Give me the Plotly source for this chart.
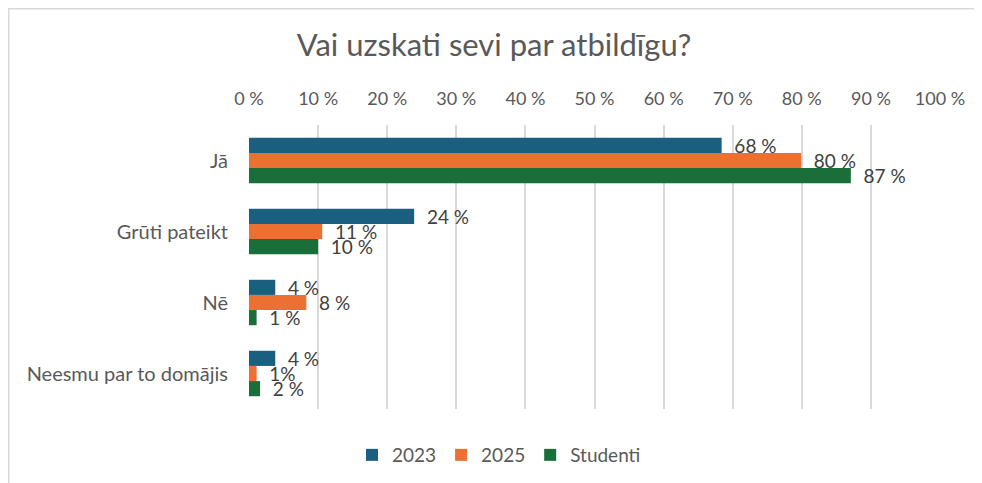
import plotly.graph_objects as go

# Categories (top to bottom as shown)
categories = ["Jā", "Grūti pateikt", "Nē", "Neesmu par to domājis"]

# Series values in percent
vals_2023 = [68.4, 23.9, 3.8, 3.8]
vals_2025 = [79.9, 10.6, 8.3, 1.1]
vals_studenti = [87.1, 10.0, 1.1, 1.6]

# Data labels as printed on the chart
labels_2023 = ["68 %", "24 %", "4 %", "4 %"]
labels_2025 = ["80 %", "11 %", "8 %", "1%"]
labels_studenti = ["87 %", "10 %", "1 %", "2 %"]

tick_vals = list(range(0, 101, 10))
tick_text = [f"{v} %" for v in tick_vals]

FONT = "Lato, Open Sans, sans-serif"
series = [
    ("2023", vals_2023, labels_2023, "#1a5f7f"),
    ("2025", vals_2025, labels_2025, "#ec7031"),
    ("Studenti", vals_studenti, labels_studenti, "#196e39"),
]

fig = go.Figure()
for name, vals, labs, color in series:
    fig.add_trace(go.Bar(
        name=name,
        y=categories,
        x=vals,
        orientation="h",
        marker=dict(color=color, line=dict(width=0)),
        text=["\u00a0\u00a0" + t for t in labs],
        textposition="outside",
        constraintext="none",
        cliponaxis=False,
        textfont=dict(size=19, color="#404040", family=FONT),
    ))

# page sits 8px in from the window edge, so margins are shifted by that
fig.update_layout(
    width=982, height=483,
    margin=dict(l=241, r=50, t=117, b=82),
    paper_bgcolor="white",
    plot_bgcolor="white",
    barmode="group",
    bargap=0.36,
    bargroupgap=0,
    font=dict(family=FONT, color="#595959"),
    title=dict(text="Vai uzskati sevi par atbildīgu?", x=(494 - 8) / 982, xanchor="center",
               y=1 - 37 / 483, yanchor="middle",
               font=dict(size=31, color="#595959", family=FONT)),
    legend=dict(orientation="h", x=(499 - 249) / 691, xanchor="center", y=-0.162, yanchor="middle",
                font=dict(size=19, color="#595959", family=FONT),
                traceorder="normal", itemwidth=30),
    shapes=[dict(type="rect", xref="paper", yref="paper",
                 x0=(0.75 - 241) / 691, x1=1.2, y0=-0.4, y1=(401 - 0.75) / 284,
                 line=dict(color="#d9d9d9", width=1.5), layer="below")],
)
fig.update_xaxes(
    side="top", range=[0, 100], tickvals=tick_vals, ticktext=tick_text,
    showgrid=True, gridcolor="#d9d9d9", gridwidth=1.5,
    zeroline=False, showline=False,
    ticks="", ticklabelstandoff=15,
    tickfont=dict(size=18, color="#595959", family=FONT),
)
fig.update_yaxes(
    autorange="reversed", showgrid=False, showline=False, ticks="",
    ticklabelstandoff=20,
    tickfont=dict(size=20, color="#595959", family=FONT),
)

fig.write_html("out.html")
